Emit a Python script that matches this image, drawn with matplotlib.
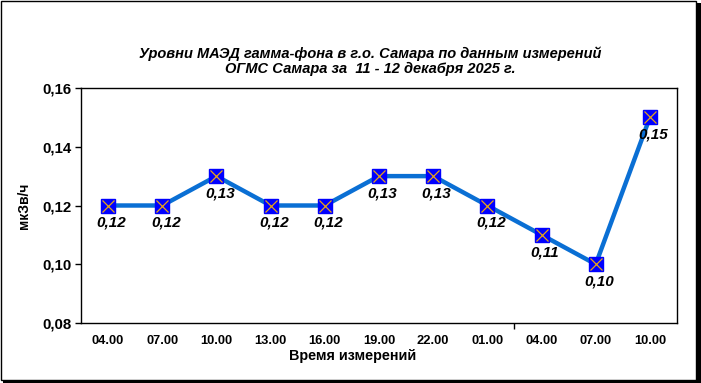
import matplotlib
matplotlib.use("Agg")
import matplotlib.pyplot as plt
from matplotlib.patches import Rectangle

times = ["04.00", "07.00", "10.00", "13.00", "16.00", "19.00", "22.00", "01.00", "04.00", "07.00", "10.00"]
values = [0.12, 0.12, 0.13, 0.12, 0.12, 0.13, 0.13, 0.12, 0.11, 0.10, 0.15]
yticks = [0.08, 0.10, 0.12, 0.14, 0.16]
day_boundary = [7.5]

title = "Уровни МАЭД гамма-фона в г.о. Самара по данным измерений\nОГМС Самара за  11 - 12 декабря 2025 г."

plt.rcParams['font.family'] = ['Liberation Sans', 'DejaVu Sans']

fig = plt.figure(figsize=(7.01, 3.83), dpi=100)
# outer frame with shadow
fig.patches.append(Rectangle((3 / 701, 0), 698 / 701, 380 / 383, transform=fig.transFigure,
                             facecolor='black', edgecolor='none', zorder=0))
fig.patches.append(Rectangle((0.5 / 701, 3.5 / 383), 695 / 701, 379 / 383, transform=fig.transFigure,
                             facecolor='white', edgecolor='black', linewidth=1.0, zorder=1))

ax = fig.add_axes([81 / 701, 1 - 323 / 383, 596 / 701, 235 / 383])
ax.set_zorder(2)
x = list(range(len(times)))
ax.plot(x, values, color='#0A6FD4', linewidth=3.2, zorder=3, clip_on=False)
ax.plot(x, values, linestyle='none', marker='s', markersize=9.5, markerfacecolor='#0000FF',
        markeredgecolor='#0000FF', zorder=4, clip_on=False)
ax.plot(x, values, linestyle='none', marker='x', markersize=8, markeredgecolor='#E8A317',
        markeredgewidth=0.9, zorder=5, clip_on=False)

for xi, v in zip(x, values):
    ax.annotate(f"{v:.2f}".replace('.', ','), (xi, v), xytext=(2.5, -7.5), textcoords='offset points',
                ha='center', va='top', fontsize=11, fontweight='bold', fontstyle='italic',
                color='black', zorder=6)

ax.set_xlim(-0.5, len(times) - 0.5)
ax.set_ylim(0.08, 0.16)
ax.set_yticks(yticks)
ax.set_yticklabels([f"{t:.2f}".replace('.', ',') for t in yticks], fontsize=10.8, fontweight='bold')
ax.set_xticks(x)
ax.set_xticklabels(times, fontsize=9.3, fontweight='bold')
ax.set_xticks(day_boundary, minor=True)
ax.tick_params(axis='x', which='major', length=0, pad=9)
ax.tick_params(axis='x', which='minor', length=4, width=1, direction='out')
ax.tick_params(axis='y', length=4, width=1, direction='out', pad=3)
for s in ax.spines.values():
    s.set_linewidth(1.0)
    s.set_color('black')

ax.set_ylabel("мкЗв/ч", fontsize=10, fontweight='bold', labelpad=8)
fig.text(353 / 701, 1 - 356 / 383, "Время измерений", ha='center', va='center',
         fontsize=10.4, fontweight='bold')
fig.text(370 / 701, 1 - 61 / 383, title, ha='center', va='center', fontsize=10.5,
         fontweight='bold', fontstyle='italic', linespacing=1.1)

fig.savefig("out.png", dpi=100)
